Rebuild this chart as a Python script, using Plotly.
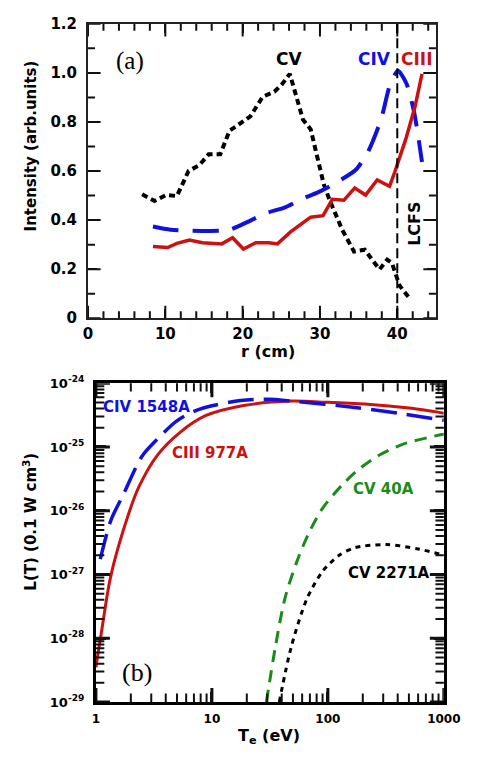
import plotly.graph_objects as go

# ---------------- Panel (a) data ----------------
cv_r = [7.0, 8.6, 10.1, 11.5, 13.0, 14.4, 15.6, 17.1, 18.3, 19.8, 21.0, 22.6, 24.1, 25.1, 26.1,
        27.8, 28.8, 30.5, 31.3, 32.9, 34.4, 35.8, 37.0, 37.7, 38.7, 39.3, 40.3, 41.6]
cv_i = [0.505, 0.478, 0.502, 0.498, 0.600, 0.624, 0.668, 0.668, 0.764, 0.797, 0.823, 0.903, 0.923,
        0.954, 0.996, 0.810, 0.770, 0.545, 0.478, 0.359, 0.272, 0.279, 0.226, 0.199, 0.239, 0.226,
        0.133, 0.080]

civ_r = [8.4, 10.7, 18.1, 21.0, 23.0, 25.5, 28.0, 29.6, 31.3, 34.6, 36.2, 37.9, 39.1, 40.1, 41.2,
         42.2, 43.2]
civ_i = [0.374, 0.361, 0.359, 0.398, 0.428, 0.452, 0.491, 0.511, 0.538, 0.604, 0.677, 0.810, 0.956,
         1.009, 0.956, 0.837, 0.637]

ciii_r = [8.4, 10.3, 11.5, 13.1, 14.8, 17.3, 18.7, 20.1, 21.7, 23.4, 24.5, 26.2, 28.8, 30.4, 31.6,
          33.1, 34.5, 35.9, 37.4, 39.0, 39.7, 41.1, 42.3, 43.2]
ciii_i = [0.292, 0.288, 0.305, 0.319, 0.308, 0.303, 0.328, 0.282, 0.308, 0.308, 0.303, 0.352, 0.412,
          0.418, 0.485, 0.481, 0.531, 0.502, 0.564, 0.538, 0.598, 0.730, 0.863, 0.996]

lcfs_r = 40
x_range_a = [0, 45]
y_range_a = [0, 1.2]
x_ticks_a = [0, 10, 20, 30, 40]
y_ticks_a = [0, 0.2, 0.4, 0.6, 0.8, 1.0, 1.2]
y_text_a = ["0", "0.2", "0.4", "0.6", "0.8", "1.0", "1.2"]
x_minor_a = [2, 4, 6, 8, 12, 14, 16, 18, 22, 24, 26, 28, 32, 34, 36, 38, 42, 44]
y_minor_a = [0.1, 0.3, 0.5, 0.7, 0.9, 1.1]

# ---------------- Panel (b) data ----------------
ciii_T = [1.0, 1.05, 1.10, 1.33, 1.76, 2.34, 3.42, 5.32, 8.81, 18.8, 48.4, 100, 220, 501, 1000]
ciii_L = [3.5e-29, 6.3e-29, 1.05e-28, 8.7e-28, 5.6e-27, 2.34e-26, 7.6e-26, 1.70e-25, 3.09e-25,
          4.47e-25, 5.25e-25, 5.01e-25, 4.68e-25, 4.07e-25, 3.39e-25]

civ_T = [1.09, 1.35, 1.71, 2.49, 3.42, 4.99, 7.76, 17.7, 31.6, 48.4, 171, 398, 1000]
civ_L = [1.74e-27, 7.2e-27, 1.74e-26, 7.1e-26, 1.35e-25, 2.57e-25, 3.89e-25, 5.37e-25, 5.62e-25,
         5.25e-25, 4.17e-25, 3.39e-25, 2.63e-25]

cv40_T = [29.5, 35.3, 42.7, 55.0, 70.6, 90.8, 132, 182, 265, 440, 933, 1000]
cv40_L = [1.0e-29, 7.4e-29, 4.27e-28, 1.74e-27, 5.0e-27, 1.12e-26, 2.51e-26, 4.37e-26, 7.1e-26,
          1.10e-25, 1.55e-25, 1.58e-25]

cv2271_T = [38.1, 48.4, 66.4, 91.0, 125, 171, 321, 604, 1000]
cv2271_L = [1.0e-29, 7.4e-29, 4.27e-28, 1.15e-27, 2.0e-27, 2.63e-27, 2.95e-27, 2.51e-27, 2.0e-27]

x_range_b = [1, 1000]
y_range_b = [1e-29, 1e-24]
x_ticks_b = [1, 10, 100, 1000]
y_decades_b = [-29, -28, -27, -26, -25, -24]
y_ticks_b = [10.0 ** d for d in y_decades_b]
x_minor_b = [k * 10 ** n for n in range(0, 3) for k in range(2, 10)]
y_minor_b = [k * 10.0 ** n for n in range(-29, -24) for k in range(2, 10)]

RED = "#cc1111"
BLUE = "#1111dd"
GREEN = "#1a8c1a"
BLACK = "#000000"
TICK = "#111111"
SANS = "DejaVu Sans"
SERIF = "Liberation Serif"

# page is 486x760 with the default 8px body margin
OFF = 8
W, H = 486 - 2 * OFF, 760 - 2 * OFF
def px(x):
    return (x - OFF) / W
def py(y):
    return 1 - (y - OFF) / H

fig = go.Figure()

# panel (a)
fig.add_trace(go.Scatter(x=cv_r, y=cv_i, mode="lines", xaxis="x", yaxis="y",
                         line=dict(color=BLACK, width=4, dash="6px,4px"), showlegend=False))
fig.add_trace(go.Scatter(x=civ_r, y=civ_i, mode="lines", xaxis="x", yaxis="y",
                         line=dict(color=BLUE, width=4, dash="26px,14px", shape="spline", smoothing=0.6),
                         showlegend=False))
fig.add_trace(go.Scatter(x=ciii_r, y=ciii_i, mode="lines", xaxis="x", yaxis="y",
                         line=dict(color=RED, width=3.5), showlegend=False))

# panel (b)
fig.add_trace(go.Scatter(x=ciii_T, y=ciii_L, mode="lines", xaxis="x2", yaxis="y2",
                         line=dict(color=RED, width=3, shape="spline", smoothing=0.8), showlegend=False))
fig.add_trace(go.Scatter(x=civ_T, y=civ_L, mode="lines", xaxis="x2", yaxis="y2",
                         line=dict(color=BLUE, width=3.5, dash="26px,10px", shape="spline", smoothing=0.8),
                         showlegend=False))
fig.add_trace(go.Scatter(x=cv40_T, y=cv40_L, mode="lines", xaxis="x2", yaxis="y2",
                         line=dict(color=GREEN, width=3, dash="12px,8px", shape="spline", smoothing=0.8),
                         showlegend=False))
fig.add_trace(go.Scatter(x=cv2271_T, y=cv2271_L, mode="lines", xaxis="x2", yaxis="y2",
                         line=dict(color=BLACK, width=3, dash="5px,5px", shape="spline", smoothing=0.8),
                         showlegend=False))


# inward tick marks on all four sides (markers centred on the frame, clipped to the plot area)
def tick_marks(xa, ya, xr, yr, xvals, yvals, length, width):
    xs = list(xvals) * 2
    ys = [yr[0]] * len(xvals) + [yr[1]] * len(xvals)
    fig.add_trace(go.Scatter(x=xs, y=ys, mode="markers", xaxis=xa, yaxis=ya, cliponaxis=True,
                             hoverinfo="skip", showlegend=False,
                             marker=dict(symbol="line-ns-open", size=2 * length, color=TICK,
                                         line=dict(color=TICK, width=width))))
    xs = [xr[0]] * len(yvals) + [xr[1]] * len(yvals)
    ys = list(yvals) * 2
    fig.add_trace(go.Scatter(x=xs, y=ys, mode="markers", xaxis=xa, yaxis=ya, cliponaxis=True,
                             hoverinfo="skip", showlegend=False,
                             marker=dict(symbol="line-ew-open", size=2 * length, color=TICK,
                                         line=dict(color=TICK, width=width))))


tick_marks("x", "y", x_range_a, y_range_a, x_ticks_a, y_ticks_a, 9, 2)
tick_marks("x", "y", x_range_a, y_range_a, x_minor_a, y_minor_a, 5, 2)
tick_marks("x2", "y2", x_range_b, y_range_b, x_ticks_b, y_ticks_b, 10, 3)
tick_marks("x2", "y2", x_range_b, y_range_b, x_minor_b, y_minor_b, 6, 2)

tickfont_a = dict(family=SANS, size=15, color="black", weight="bold")
tickfont_b = dict(family=SANS, size=12, color="black", weight="bold")

fig.update_layout(
    width=W, height=H,
    margin=dict(l=0, r=0, t=0, b=0, pad=0),
    paper_bgcolor="white", plot_bgcolor="white",
    xaxis=dict(domain=[px(86.7), px(451.7)], anchor="y", range=x_range_a,
               tickmode="array", tickvals=x_ticks_a,
               ticks="inside", ticklen=9, tickwidth=2, tickcolor=TICK,
               showline=True, linewidth=2, linecolor="#222", mirror="allticks",
               showgrid=False, zeroline=False, tickfont=tickfont_a, ticklabelstandoff=1),
    yaxis=dict(domain=[py(316.7), py(15)], anchor="x", range=y_range_a,
               tickmode="array", tickvals=y_ticks_a, ticktext=y_text_a,
               ticks="inside", ticklen=9, tickwidth=2, tickcolor=TICK,
               showline=True, linewidth=2, linecolor="#222", mirror="allticks",
               showgrid=False, zeroline=False, tickfont=tickfont_a, ticklabelstandoff=6),
    xaxis2=dict(domain=[px(95), px(460)], anchor="y2", type="log", range=[0, 3],
                tickmode="array", tickvals=x_ticks_b, ticktext=[str(v) for v in x_ticks_b],
                ticks="inside", ticklen=10, tickwidth=3, tickcolor=TICK,
                showline=True, linewidth=3, linecolor="black", mirror="allticks",
                showgrid=False, tickfont=tickfont_b, ticklabelstandoff=4),
    yaxis2=dict(domain=[py(710), py(383.3)], anchor="x2", type="log", range=[-29, -24],
                tickmode="array", tickvals=y_ticks_b,
                ticktext=["10<sup>%d</sup>" % d for d in y_decades_b],
                ticks="inside", ticklen=10, tickwidth=3, tickcolor=TICK,
                showline=True, linewidth=3, linecolor="black", mirror="allticks",
                showgrid=False, tickfont=dict(family=SANS, size=13, color="black", weight="bold"),
                ticklabelstandoff=6),
)

fig.add_shape(type="line", xref="x", yref="y domain", x0=lcfs_r, x1=lcfs_r, y0=0, y1=1,
              line=dict(color="black", width=2, dash="10px,5px"))

def lab(text, x, y, xref, yref, color, size, family=SANS, bold=True, angle=0):
    fig.add_annotation(text=text, x=x, y=y, xref=xref, yref=yref, showarrow=False,
                       xanchor="center", yanchor="middle", textangle=angle,
                       font=dict(family=family, size=size, color=color,
                                 weight="bold" if bold else "normal"))

# panel (a) labels
lab("CV", 26.0, 1.056, "x", "y", BLACK, 17)
lab("CIV", 37.0, 1.056, "x", "y", BLUE, 17)
lab("CIII", 42.5, 1.056, "x", "y", RED, 17)
lab("(a)", 5.4, 1.047, "x", "y", BLACK, 25, family=SERIF, bold=False)
lab("LCFS", 42.3, 0.385, "x", "y", BLACK, 16, angle=-90)

# panel (b) labels (log coordinates)
lab("CIV 1548A", 0.435, -24.378, "x2", "y2", BLUE, 15)
lab("CIII 977A", 0.986, -25.097, "x2", "y2", RED, 15)
lab("CV 40A", 2.48, -25.66, "x2", "y2", GREEN, 15)
lab("CV 2271A", 2.53, -26.98, "x2", "y2", BLACK, 15)
lab("(b)", 0.353, -28.54, "x2", "y2", BLACK, 26, family=SERIF, bold=False)

# axis titles
lab("Intensity (arb.units)", px(26.5), py(140), "paper", "paper", BLACK, 15, angle=-90)
lab("r (cm)", px(275), py(351), "paper", "paper", BLACK, 16)
lab("L(T) (0.1 W cm<sup>3</sup>)", px(26), py(525), "paper", "paper", BLACK, 15, angle=-90)
lab("T<sub>e</sub> (eV)", px(276.7), py(745), "paper", "paper", BLACK, 16)

fig.write_html("out.html")
